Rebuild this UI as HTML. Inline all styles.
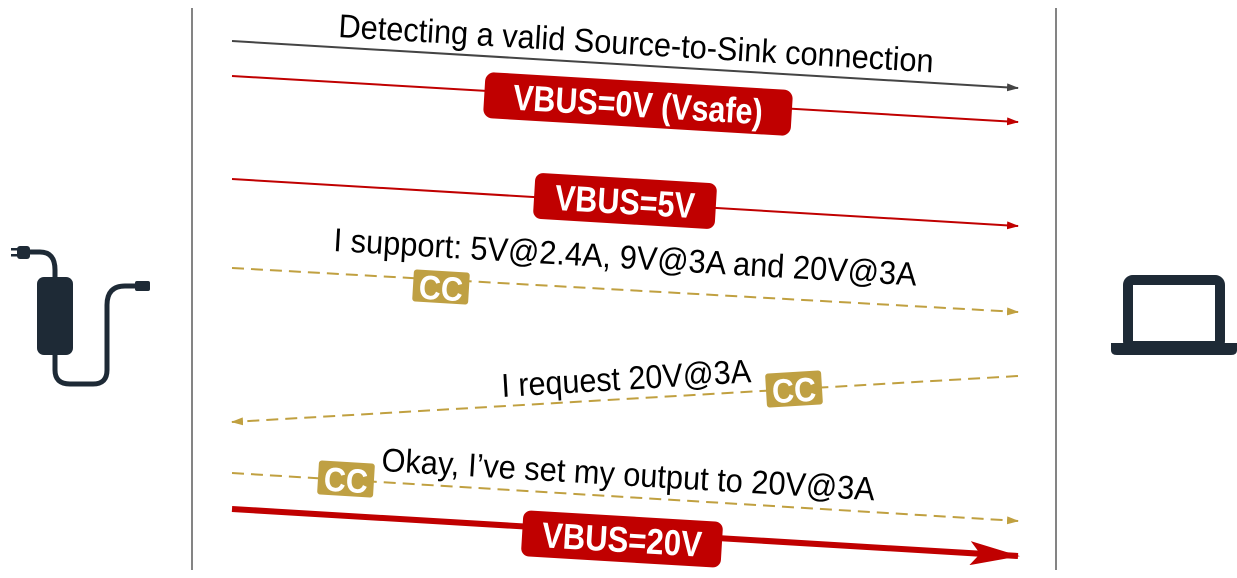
<!DOCTYPE html>
<html><head><style>
html,body{margin:0;padding:0;background:#fff;}
svg{display:block;}
text{font-family:"Liberation Sans Narrow","Liberation Sans",sans-serif;}
</style></head><body>
<svg width="1237" height="578" viewBox="0 0 1237 578" xmlns="http://www.w3.org/2000/svg">
<defs>
<marker id="ab" markerWidth="12" markerHeight="8" refX="11" refY="4" orient="auto" markerUnits="userSpaceOnUse"><path d="M0,0 L12,4 L0,8 z" fill="#444"/></marker>
<marker id="ar" markerWidth="12" markerHeight="8" refX="11" refY="4" orient="auto" markerUnits="userSpaceOnUse"><path d="M0,0 L12,4 L0,8 z" fill="#c00000"/></marker>
<marker id="ag" markerWidth="12" markerHeight="8" refX="11" refY="4" orient="auto" markerUnits="userSpaceOnUse"><path d="M0,0 L12,4 L0,8 z" fill="#c0a040"/></marker>
<marker id="abig" markerWidth="50" markerHeight="24" refX="48" refY="12" orient="auto" markerUnits="userSpaceOnUse"><path d="M0,0 L50,12 L0,24 L10,12 z" fill="#c00000"/></marker>
</defs>
<line x1="192" y1="8" x2="192" y2="570" stroke="#333" stroke-width="1.2"/>
<line x1="1056" y1="8" x2="1056" y2="570" stroke="#333" stroke-width="1.2"/>

<line x1="232" y1="41" x2="1018" y2="88" stroke="#444" stroke-width="2" marker-end="url(#ab)"/>
<text transform="translate(338,37) rotate(3.4)" font-size="33" textLength="596" lengthAdjust="spacingAndGlyphs" fill="#000">Detecting a valid Source-to-Sink connection</text>

<line x1="232" y1="76" x2="1018" y2="122" stroke="#c00000" stroke-width="2" marker-end="url(#ar)"/>
<g transform="translate(638,104) rotate(3.4)">
<rect x="-154" y="-23" width="308" height="46" rx="9" fill="#c00000"/>
<text x="0" y="13" font-size="36" font-weight="bold" fill="#fff" text-anchor="middle" textLength="250" lengthAdjust="spacingAndGlyphs">VBUS=0V (Vsafe)</text>
</g>

<line x1="232" y1="179" x2="1018" y2="226" stroke="#c00000" stroke-width="2" marker-end="url(#ar)"/>
<g transform="translate(625,201) rotate(3.4)">
<rect x="-91" y="-23" width="182" height="46" rx="8" fill="#c00000"/>
<text x="0" y="13" font-size="36" font-weight="bold" fill="#fff" text-anchor="middle" textLength="140" lengthAdjust="spacingAndGlyphs">VBUS=5V</text>
</g>

<line x1="232" y1="268" x2="1018" y2="312" stroke="#c0a040" stroke-width="2" stroke-dasharray="12,7" marker-end="url(#ag)"/>
<text transform="translate(333,251) rotate(3.4)" font-size="33" textLength="584" lengthAdjust="spacingAndGlyphs" fill="#000">I support: 5V@2.4A, 9V@3A and 20V@3A</text>
<g transform="translate(441,287) rotate(3.4)">
<rect x="-28" y="-16" width="56" height="32" rx="3" fill="#bfa043"/>
<text x="0" y="13" font-size="34" font-weight="bold" fill="#fff" text-anchor="middle" textLength="44" lengthAdjust="spacingAndGlyphs">CC</text>
</g>

<line x1="1018" y1="376" x2="232" y2="422" stroke="#c0a040" stroke-width="2" stroke-dasharray="12,7" marker-end="url(#ag)"/>
<text transform="translate(502,397) rotate(-3.4)" font-size="33" textLength="250" lengthAdjust="spacingAndGlyphs" fill="#000">I request 20V@3A</text>
<g transform="translate(794,389) rotate(-3.4)">
<rect x="-28" y="-17" width="56" height="34" rx="3" fill="#bfa043"/>
<text x="0" y="13" font-size="34" font-weight="bold" fill="#fff" text-anchor="middle" textLength="44" lengthAdjust="spacingAndGlyphs">CC</text>
</g>

<line x1="232" y1="473" x2="1018" y2="521" stroke="#c0a040" stroke-width="2" stroke-dasharray="12,7" marker-end="url(#ag)"/>
<text transform="translate(381,471) rotate(3.4)" font-size="33" textLength="494" lengthAdjust="spacingAndGlyphs" fill="#000">Okay, I’ve set my output to 20V@3A</text>
<g transform="translate(346,479) rotate(3.4)">
<rect x="-28" y="-17" width="56" height="34" rx="3" fill="#bfa043"/>
<text x="0" y="13" font-size="34" font-weight="bold" fill="#fff" text-anchor="middle" textLength="44" lengthAdjust="spacingAndGlyphs">CC</text>
</g>

<line x1="232" y1="509" x2="1018" y2="556" stroke="#c00000" stroke-width="6" marker-end="url(#abig)"/>
<g transform="translate(622,539) rotate(3.4)">
<rect x="-100" y="-23" width="200" height="46" rx="8" fill="#c00000"/>
<text x="0" y="13" font-size="36" font-weight="bold" fill="#fff" text-anchor="middle" textLength="160" lengthAdjust="spacingAndGlyphs">VBUS=20V</text>
</g>

<g fill="none" stroke="#1e2a36" stroke-width="5" stroke-linecap="round">
<path d="M26,252 L40,252 Q55,252 55,270 L55,280"/>
<path d="M55,350 L55,370 Q55,384 70,384 L93,384 Q107,384 107,370 L107,305 Q107,286 125,286 L138,286"/>
</g>
<rect x="37" y="277" width="36" height="78" rx="7" fill="#1e2a36"/>
<rect x="17" y="246" width="13" height="13" rx="3" fill="#1e2a36"/>
<rect x="11" y="248" width="7" height="2.5" fill="#1e2a36"/>
<rect x="11" y="254" width="7" height="2.5" fill="#1e2a36"/>
<rect x="135" y="281" width="15" height="10" rx="2" fill="#1e2a36"/>

<rect x="1128" y="280" width="92" height="66" rx="5" fill="none" stroke="#1e2a36" stroke-width="10"/>
<path d="M1111,343 L1237,343 L1237,350 Q1237,355 1231,355 L1117,355 Q1111,355 1111,350 z" fill="#1e2a36"/>
</svg>
</body></html>
